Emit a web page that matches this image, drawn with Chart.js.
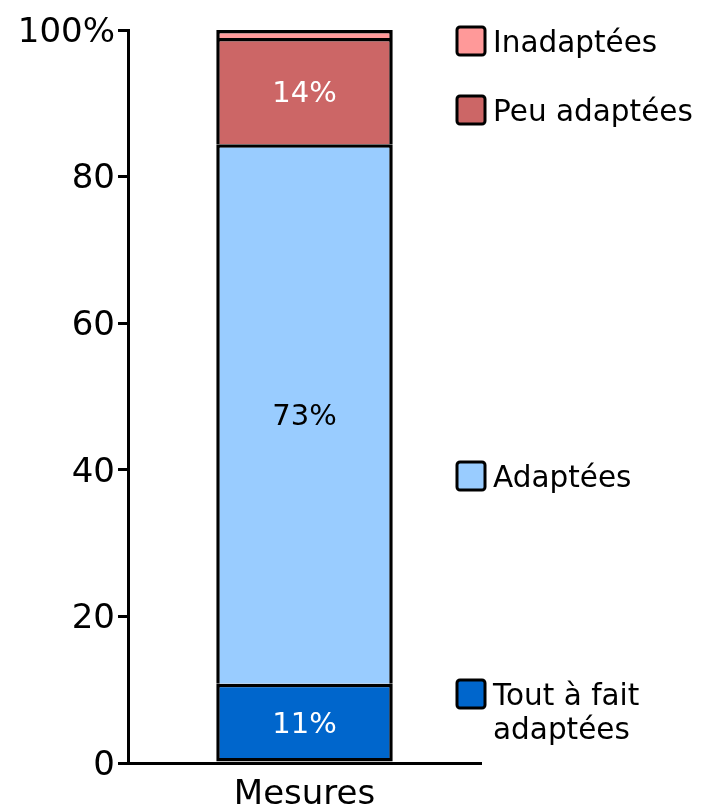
<!DOCTYPE html>
<html>
<head>
<meta charset="utf-8">
<script src="https://cdn.jsdelivr.net/npm/chart.js@4"></script>
<style>
  html, body { margin: 0; padding: 0; background: #fff; }
  #wrap { width: 702px; height: 808px; }
</style>
</head>
<body>
<div id="wrap"><canvas id="chart" width="702" height="808"></canvas></div>
<script>
'use strict';

const categories   = ['Mesures'];
const seriesNames  = ['Tout à fait adaptées', 'Adaptées', 'Peu adaptées', 'Inadaptées'];
const toutAFait    = [10.8];
const adaptees     = [73.6];
const peuAdaptees  = [14.5];
const inadaptees   = [1.1];
const segmentText  = ['11%', '73%', '14%', ''];
const yTicks       = [0, 20, 40, 60, 80, 100];

const FONT = '"DejaVu Sans", Verdana, sans-serif';
const colors    = ['#0066cc', '#99ccff', '#cc6666', '#ff9999'];
const textColor = ['#ffffff', '#000000', '#ffffff', '#ffffff'];

// legend entries: lines of text and vertical centre (px) of the first line
const legendItems = [
  { lines: ['Inadaptées'],              color: colors[3], y: 41 },
  { lines: ['Peu adaptées'],            color: colors[2], y: 110 },
  { lines: ['Adaptées'],                color: colors[1], y: 476 },
  { lines: ['Tout à fait', 'adaptées'], color: colors[0], y: 694 },
];

const segmentLabels = {
  id: 'segmentLabels',
  afterDatasetsDraw(chart) {
    const ctx = chart.ctx;
    ctx.save();
    ctx.font = '29px ' + FONT;
    ctx.textAlign = 'center';
    ctx.textBaseline = 'middle';
    chart.data.datasets.forEach((ds, i) => {
      const meta = chart.getDatasetMeta(i);
      meta.data.forEach(bar => {
        if (!segmentText[i]) return;
        ctx.fillStyle = textColor[i];
        ctx.fillText(segmentText[i], bar.x, (bar.y + bar.base) / 2 + 3);
      });
    });
    ctx.restore();
  }
};

const sideLegend = {
  id: 'sideLegend',
  afterDraw(chart) {
    const ctx = chart.ctx;
    const x = 457, size = 28;
    ctx.save();
    ctx.font = '29.5px ' + FONT;
    ctx.textBaseline = 'middle';
    ctx.textAlign = 'left';
    legendItems.forEach(item => {
      ctx.beginPath();
      ctx.roundRect(x, item.y - size / 2, size, size, 3);
      ctx.fillStyle = item.color;
      ctx.fill();
      ctx.lineWidth = 3;
      ctx.strokeStyle = '#000';
      ctx.stroke();
      ctx.fillStyle = '#000';
      item.lines.forEach((line, k) => {
        ctx.fillText(line, x + size + 8, item.y + 3 + k * 34);
      });
    });
    ctx.restore();
  }
};

const series = [toutAFait, adaptees, peuAdaptees, inadaptees];

new Chart(document.getElementById('chart'), {
  type: 'bar',
  data: {
    labels: categories,
    datasets: series.map((data, i) => ({
      label: seriesNames[i],
      data,
      backgroundColor: colors[i],
      borderColor: '#000',
      borderWidth: 3.5,
      borderSkipped: i === 0 ? false : 'start',
      inflateAmount: 0,
      barPercentage: 0.5,
      categoryPercentage: 1.0,
    }))
  },
  options: {
    responsive: false,
    animation: false,
    layout: { padding: { top: 30, right: 221, left: 0, bottom: 0 } },
    plugins: {
      legend: { display: false },
      tooltip: { enabled: false }
    },
    scales: {
      x: {
        stacked: true,
        grid: { display: false },
        border: { display: true, color: '#000', width: 3 },
        ticks: { color: '#000', font: { family: FONT, size: 34 }, padding: 4 },
        afterFit: s => { s.height = 45; }
      },
      y: {
        stacked: true,
        min: 0,
        max: 100,
        afterBuildTicks: s => { s.ticks = yTicks.map(v => ({ value: v })); },
        grid: { drawOnChartArea: false, drawTicks: true, tickLength: 10, color: '#000', lineWidth: 3 },
        border: { display: true, color: '#000', width: 3 },
        ticks: {
          color: '#000',
          font: { family: FONT, size: 34, lineHeight: 1.0 },
          padding: 3,
          labelOffset: 3,
          callback: v => v === 100 ? '100%' : v
        },
        afterFit: s => { s.width = 128; }
      }
    }
  },
  plugins: [segmentLabels, sideLegend]
});
</script>
</body>
</html>
